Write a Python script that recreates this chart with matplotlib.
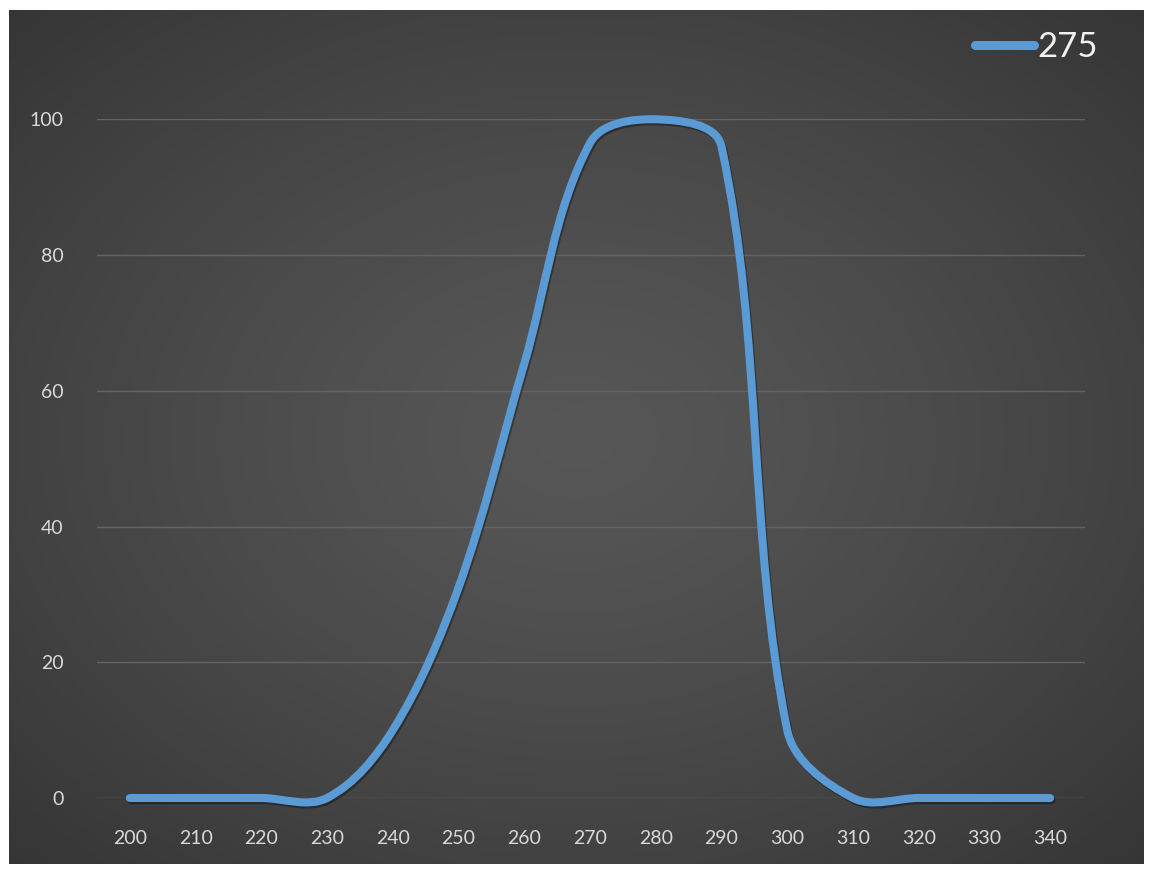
import matplotlib
matplotlib.use("Agg")
import matplotlib.pyplot as plt
import numpy as np
from matplotlib.path import Path
from matplotlib.patches import PathPatch
from matplotlib.lines import Line2D
import matplotlib.patheffects as pe

# values (10 nm steps)
wavelength = [200, 210, 220, 230, 240, 250, 260, 270, 280, 290, 300, 310, 320, 330, 340]
response = [0, 0, 0, 0, 10, 31, 64, 96.5, 100, 96, 10, 0, 0, 0, 0]
series_name = "275"
yticks = [0, 20, 40, 60, 80, 100]

line_color = "#5B9BD5"
text_color = "#D9D9D9"

plt.rcParams['font.family'] = ['Lato', 'DejaVu Sans']

fig = plt.figure(figsize=(11.52, 8.73), dpi=100, facecolor="white")

# dark radial-gradient chart area
bg = fig.add_axes([9/1152, 9/873, 1135/1152, 854/873])
gx, gy = np.meshgrid(np.linspace(-1, 1, 400), np.linspace(-1, 1, 300))
r = np.clip(np.sqrt(gx**2 + gy**2) / np.sqrt(2), 0, 1)
c0, c1 = 0.34, 0.21
grad = c0 + (c1 - c0) * r**1.3
bg.imshow(np.dstack([grad, grad, grad]), aspect="auto", extent=[0, 1, 0, 1])
bg.set_axis_off()

ax = fig.add_axes([97/1152, 75/873, 988/1152, 678.7/873])
ax.set_facecolor("none")
ax.set_xlim(195, 345.3)
ax.set_ylim(0, 100)
ax.set_yticks(yticks)
ax.set_xticks(wavelength)
for s in ax.spines.values():
    s.set_visible(False)
ax.tick_params(length=0, labelsize=14, labelcolor=text_color)
ax.tick_params(axis="y", pad=24)
ax.tick_params(axis="x", pad=23)
ax.grid(axis="y", color="#646464", linewidth=1)
ax.set_axisbelow(True)

# smoothed line, spreadsheet style: Bezier segments built in screen space,
# tangent from the neighbours, handle length a third of the segment length
pts = ax.transData.transform(np.column_stack([wavelength, response]).astype(float))
n = len(pts)

def tangent(i):
    d = pts[min(i + 1, n - 1)] - pts[max(i - 1, 0)]
    return d / np.hypot(*d)

verts = [pts[0]]
codes = [Path.MOVETO]
for i in range(n - 1):
    seg = np.hypot(*(pts[i + 1] - pts[i])) / 3
    verts += [pts[i] + tangent(i) * seg, pts[i + 1] - tangent(i + 1) * seg, pts[i + 1]]
    codes += [Path.CURVE4] * 3
verts = ax.transData.inverted().transform(np.array(verts))

curve = PathPatch(Path(verts, codes), fill=False, edgecolor=line_color, linewidth=5.8,
                  capstyle="round", joinstyle="round", clip_on=False, zorder=3,
                  path_effects=[pe.SimpleLineShadow(offset=(1, -1.5), shadow_color="black", alpha=0.35),
                                pe.Normal()])
ax.add_patch(curve)

handle = Line2D([], [], color=line_color, linewidth=6.5, solid_capstyle="round")
fig.legend([handle], [series_name], loc="center right",
           bbox_to_anchor=(1098/1152, 1 - 47/873), frameon=False,
           fontsize=25, labelcolor="#F2F2F2", handlelength=1.7, handletextpad=0.1,
           borderpad=0, borderaxespad=0)

fig.savefig("out.png", dpi=100, facecolor="white")
